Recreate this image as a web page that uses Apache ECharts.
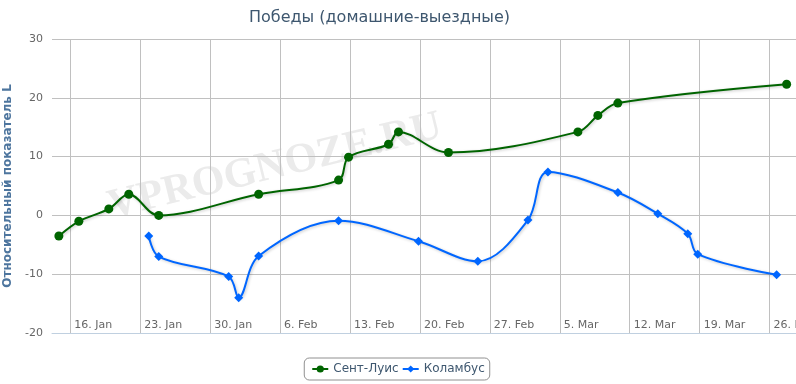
<!DOCTYPE html>
<html><head><meta charset="utf-8">
<script src="https://cdn.jsdelivr.net/npm/echarts@6/dist/echarts.min.js"></script>
<style>html,body{margin:0;padding:0;background:#fff}#c{width:796px;height:384px}</style>
</head><body><div id="c"></div>
<script>
// ---- data ----
const titleText = 'Победы (домашние-выездные)';
const yAxisTitle = 'Относительный показатель L';
const seriesNames = ['Сент-Луис', 'Коламбус'];

const stlDates = ['2012-01-14 20:30','2012-01-16 20:30','2012-01-19 20:30','2012-01-21 20:30','2012-01-24 20:30',
  '2012-02-03 20:30','2012-02-11 20:30','2012-02-12 20:30','2012-02-16 20:30','2012-02-17 20:30',
  '2012-02-22 20:30','2012-03-06 19:30','2012-03-08 19:30','2012-03-10 19:30','2012-03-27 17:00'];
const stlValues = [-3.5, -1.0, 1.1, 3.6, 0.0, 3.6, 6.0, 9.9, 12.1, 14.2, 10.7, 14.2, 17.0, 19.1, 22.3];

const cbjDates = ['2012-01-23 20:30','2012-01-24 20:30','2012-01-31 20:30','2012-02-01 20:30','2012-02-03 20:30',
  '2012-02-11 20:30','2012-02-19 20:30','2012-02-25 19:00','2012-03-01 19:30','2012-03-03 19:30',
  '2012-03-10 19:30','2012-03-14 19:30','2012-03-17 19:30','2012-03-18 19:30','2012-03-26 17:00'];
const cbjValues = [-3.5, -7.0, -10.4, -14.0, -6.9, -0.9, -4.4, -7.8, -0.8, 7.4, 3.9, 0.3, -3.1, -6.6, -10.1];

const tickDates = ['2012-01-16','2012-01-23','2012-01-30','2012-02-06','2012-02-13','2012-02-20',
  '2012-02-27','2012-03-05','2012-03-12','2012-03-19','2012-03-26'];
const monthNames = ['Jan','Feb','Mar','Apr','May','Jun','Jul','Aug','Sep','Oct','Nov','Dec'];
const watermark = 'VPROGNOZE.RU';

// ---- helpers ----
function ts(s) {
  const parts = s.split(' ');
  const [Y, M, D] = parts[0].split('-').map(Number);
  const [h, m] = (parts[1] || '00:00').split(':').map(Number);
  return Date.UTC(Y, M - 1, D, h, m);
}
const stlData = stlDates.map((d, i) => [ts(d), stlValues[i]]);
const cbjData = cbjDates.map((d, i) => [ts(d), cbjValues[i]]);
const ticks = tickDates.map(ts);

const font = 'DejaVu Sans, Verdana, sans-serif';
const chart = echarts.init(document.getElementById('c'), null, {renderer: 'canvas'});
const shadow = {shadowColor: 'rgba(0,0,0,0.22)', shadowBlur: 3, shadowOffsetX: 1, shadowOffsetY: 1};

chart.setOption({
  animation: false,
  backgroundColor: '#fff',
  title: {
    text: titleText, left: 249, top: 10, padding: 0,
    textStyle: {fontFamily: font, fontSize: 16, fontWeight: 'normal', color: '#3E576F'}
  },
  graphic: [{
    type: 'text', x: 275, y: 167, rotation: 0.24, z: 0, silent: true,
    style: {text: watermark, fontFamily: 'Liberation Serif, serif', fontWeight: 'bold', fontSize: 42,
      fill: '#ebebeb', align: 'center', verticalAlign: 'middle'}
  }],
  legend: {
    data: seriesNames, left: 'center', top: 358,
    borderColor: '#909090', borderWidth: 1, borderRadius: 5, padding: [5, 5, 5, 7],
    itemWidth: 16, itemHeight: 9, itemGap: 3,
    textStyle: {fontFamily: font, fontSize: 12, color: '#3E576F'}
  },
  grid: {left: 52, right: 0, top: 39, bottom: 51, containLabel: false, outerBoundsMode: 'none'},
  xAxis: {
    type: 'value',
    min: ts('2012-01-14 04:00'), max: ts('2012-03-28 15:30'),
    axisLine: {show: true, onZero: false, lineStyle: {color: '#C0D0E0', width: 1}},
    axisTick: {show: false, customValues: ticks},
    splitLine: {show: true, lineStyle: {color: '#C0C0C0', width: 1}},
    axisLabel: {
      customValues: ticks, align: 'left', verticalAlign: 'middle', margin: -8,
      padding: [0, 0, 0, 4], color: '#666', fontFamily: font, fontSize: 11,
      formatter: v => { const d = new Date(v); return d.getUTCDate() + '. ' + monthNames[d.getUTCMonth()]; }
    }
  },
  yAxis: {
    type: 'value', min: -20, max: 30, interval: 10,
    name: yAxisTitle, nameLocation: 'middle', nameGap: 36,
    nameTextStyle: {fontFamily: font, fontSize: 12, fontWeight: 'bold', color: '#4D759E'},
    axisLine: {show: false}, axisTick: {show: false},
    splitLine: {lineStyle: {color: '#C0C0C0', width: 1}},
    axisLabel: {margin: 9, color: '#666', fontFamily: font, fontSize: 11}
  },
  series: [
    {
      name: seriesNames[0], type: 'line', data: stlData, smooth: 0.35, z: 3,
      symbol: 'circle', symbolSize: 9, showSymbol: true,
      lineStyle: Object.assign({color: '#006400', width: 2}, shadow),
      itemStyle: {color: '#006400'}
    },
    {
      name: seriesNames[1], type: 'line', data: cbjData, smooth: 0.35, z: 3,
      symbol: 'diamond', symbolSize: 9, showSymbol: true,
      lineStyle: Object.assign({color: '#0066FF', width: 2}, shadow),
      itemStyle: {color: '#0066FF'}
    }
  ]
});
</script></body></html>
